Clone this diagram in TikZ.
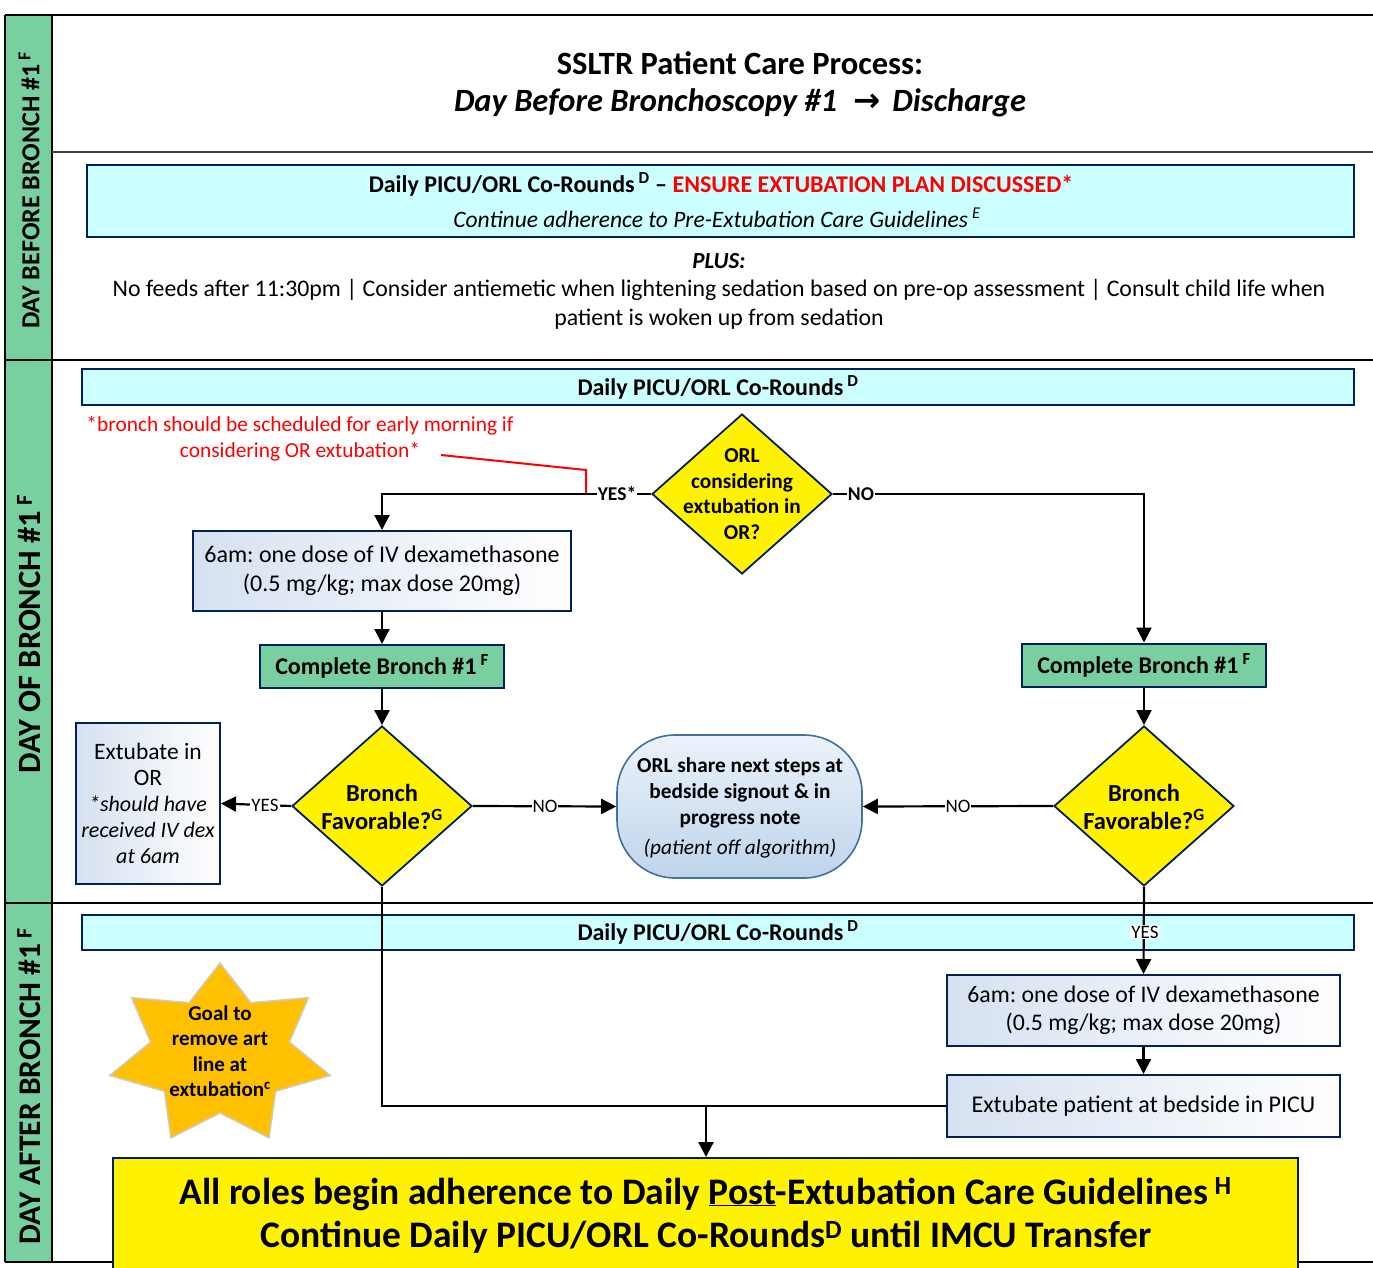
\documentclass[tikz,border=0pt]{standalone}
\usepackage{fontspec}
\setmainfont{Carlito}
\newfontfamily\dejavu{DejaVu Sans}
\usetikzlibrary{arrows.meta,shapes.geometric,calc}
\definecolor{navy}{RGB}{0,32,96}
\definecolor{cyanbox}{RGB}{204,255,255}
\definecolor{greenbox}{RGB}{120,208,160}
\definecolor{starorange}{RGB}{255,192,0}
\definecolor{stadborder}{RGB}{65,113,156}
\definecolor{paleblue}{RGB}{214,225,240}
\definecolor{stadtop}{RGB}{236,242,250}
\definecolor{stadbot}{RGB}{190,212,236}
\newcommand{\fs}[2]{\fontsize{#1}{#2}\selectfont}
\begin{document}
\frenchspacing
\begin{tikzpicture}[x=1pt,y=-1pt,
  frame/.style={line width=2.4pt, black},
  conn/.style={line width=2.2pt, black},
  arr/.style={conn, -{Triangle[length=15pt,width=15pt]}},
  cyanbar/.style={draw=navy, line width=2pt, fill=cyanbox, inner sep=0pt},
  palebox/.style={draw=navy, line width=2pt, left color=paleblue, right color=white, inner sep=0pt, align=center},
  greenstep/.style={draw=navy, line width=2pt, fill=greenbox, inner sep=0pt, minimum width=244pt, minimum height=43pt, font=\fs{24}{28}\bfseries},
  dia/.style={diamond, draw=navy, line width=1.8pt, fill=yellow, minimum width=180pt, minimum height=160pt, inner sep=0pt},
  lbl/.style={fill=white, inner sep=1pt, font=\fs{19}{22}},
  sidelab/.style={rotate=90, font=\bfseries, inner sep=0pt}
]
\useasboundingbox (0,0) rectangle (1373,1268);
\fill[white] (0,0) rectangle (1373,1268);

% ---- frame and swimlane strip
\fill[greenbox] (5,15) rectangle (52,1262);
\draw[frame] (5,15) -- (1373,15);
\draw[frame] (5,360) -- (1373,360);
\draw[frame] (5,903) -- (1373,903);
\draw[frame] (5,1262) -- (1373,1262);
\draw[frame] (5,15) -- (5,1262);
\draw[frame] (52,15) -- (52,1262);
\draw[line width=2.4pt, black!75] (52,152) -- (1373,152);

\node[sidelab, font=\fs{26}{30}\bfseries] (lab1) at (29,190) {DAY BEFORE BRONCH \#1\,\textsuperscript{F}};
\node[sidelab, font=\fs{32.5}{34}\bfseries] (lab2) at (29,634) {DAY OF BRONCH \#1\,\textsuperscript{F}};
\node[sidelab, font=\fs{31.5}{34}\bfseries] (lab3) at (29,1086) {DAY AFTER BRONCH \#1\,\textsuperscript{F}};

% ---- title
\node[font=\fs{32.5}{36}\bfseries] (title1) at (740,63) {SSLTR Patient Care Process:};
\node[font=\fs{32.5}{36}\bfseries\itshape] (title2) at (740,103) {Day Before Bronchoscopy \#1\hspace{16pt}{\dejavu\bfseries\upshape →}\hspace{12pt}Discharge};

% ---- day before
\node[cyanbar, minimum width=1267pt, minimum height=72pt] (bar1) at (720.5,201) {};
\node[font=\fs{24}{28}\bfseries] (bar1a) at (721,184) {Daily PICU/ORL Co-Rounds\,\textsuperscript{D} -- \textcolor{red}{ENSURE EXTUBATION PLAN DISCUSSED*}};
\node[font=\fs{23.5}{26}\itshape] (bar1b) at (717,218) {Continue adherence to Pre-Extubation Care Guidelines\,\textsuperscript{E}};
\node[font=\fs{23}{26}\bfseries\itshape] (plus) at (719,261) {PLUS:};
\node[font=\fs{23.8}{29}, align=center] (plustext) at (719,304) {No feeds after 11:30pm | Consider antiemetic when lightening sedation based on pre-op assessment | Consult child life when\\patient is woken up from sedation};

% ---- day of
\node[cyanbar, minimum width=1272pt, minimum height=36pt, font=\fs{24}{26}\bfseries] (bar2) at (718,387) {Daily PICU/ORL Co-Rounds\,\textsuperscript{D}};
\node[font=\fs{21.4}{26}, text=red, align=center] (note) at (300,439) {*bronch should be scheduled for early morning if\\considering OR extubation*};
\coordinate (rnA) at (441,455);
\coordinate (rnB) at (586,493);

\node[dia] (d1) at (742,494) {};
\node[font=\fs{21.3}{25.5}\bfseries, align=center] (d1t) at (742,494) {ORL\\considering\\extubation in\\OR?};

\node[palebox, minimum width=378pt, minimum height=80pt, font=\fs{24}{29}] (dex1) at (382,571) {6am: one dose of IV dexamethasone\\(0.5 mg/kg; max dose 20mg)};
\node[greenstep] (cbL) at (382,666.5) {Complete Bronch \#1\,\textsuperscript{F}};
\node[greenstep] (cbR) at (1144,665) {Complete Bronch \#1\,\textsuperscript{F}};

\node[dia] (dL) at (382,806) {};
\node[font=\fs{24.5}{28}\bfseries, align=center] (dLt) at (382,807) {Bronch\\Favorable?\textsuperscript{G}};
\node[dia] (dR) at (1144,806) {};
\node[font=\fs{24.5}{28}\bfseries, align=center] (dRt) at (1144,807) {Bronch\\Favorable?\textsuperscript{G}};

\node[palebox, minimum width=144pt, minimum height=161pt, font=\fs{22}{26}] (exOR) at (148,803.5) {\fs{23.5}{29}Extubate in\\\fs{23.5}{26}OR\\\fs{22}{26}\itshape *should have\\\itshape received IV dex\\\itshape at 6am};

\node[draw=stadborder, line width=1.6pt, rounded corners=58pt, top color=stadtop, bottom color=stadbot, minimum width=245pt, minimum height=143pt, inner sep=0pt] (stad) at (739.5,806.5) {};
\node[font=\fs{21.3}{26}\bfseries, align=center] (stadt) at (740,808) {ORL share next steps at\\bedside signout \& in\\progress note\\[4pt]\mdseries\itshape (patient off algorithm)};

% ---- day after
\node[cyanbar, minimum width=1272pt, minimum height=35pt, font=\fs{24}{26}\bfseries] (bar3) at (718,932.5) {Daily PICU/ORL Co-Rounds\,\textsuperscript{D}};

\fill[starorange, draw=black!20, line width=1.5pt]
  (220,963) -- (250.9,1002.7) -- (308.5,997.6) -- (289.5,1042.1) -- (330.4,1075.5)
  -- (275.7,1091.2) -- (269.1,1137.9) -- (220,1113) -- (170.9,1137.9) -- (164.3,1091.2)
  -- (109.6,1075.5) -- (150.5,1042.1) -- (131.5,997.6) -- (189.1,1002.7) -- cycle;
\node[font=\fs{21}{25.5}\bfseries, align=center] (startext) at (220,1051) {Goal to\\remove art\\line at\\extubation\textsuperscript{c}};

\node[palebox, minimum width=393pt, minimum height=71pt, font=\fs{23.8}{28}] (dex2) at (1143.5,1010.5) {6am: one dose of IV dexamethasone\\(0.5 mg/kg; max dose 20mg)};
\node[palebox, minimum width=393pt, minimum height=62pt, font=\fs{24}{28}] (exP) at (1143.5,1106) {Extubate patient at bedside in PICU};

\node[draw=navy, line width=1.5pt, fill=yellow, minimum width=1185pt, minimum height=130pt, inner sep=0pt, anchor=north] (final) at (705.5,1157) {};
\node[font=\fs{37.5}{40}\bfseries] (fin1) at (705.5,1194) {All roles begin adherence to Daily \underline{Post}-Extubation Care Guidelines\,\textsuperscript{H}};
\node[font=\fs{37.5}{40}\bfseries] (fin2) at (706,1237) {Continue Daily PICU/ORL Co-Rounds\textsuperscript{D} until IMCU Transfer};

% ---- connectors
\draw[arr] (d1.west) -| (dex1.north);
\draw[arr] (d1.east) -| (cbR.north);
\draw[arr] (dex1.south) -- (cbL.north);
\draw[arr] (cbL.south) -- (dL.north);
\draw[arr] (cbR.south) -- (dR.north);
\draw[arr] (dL.west) -- (exOR.east);
\draw[arr] (dL.east) -- (stad.west);
\draw[arr] (dR.west) -- (stad.east);
\draw[arr] (dR.south) -- (dex2.north);
\draw[arr] (dex2.south) -- (exP.north);
\draw[conn] (dL.south) |- (exP.west);
\coordinate (j) at (706,1106);
\draw[arr] (j) -- (final.north -| j);
\draw[red, line width=2pt] (rnA) -- (586,470) -- (rnB);

% ---- connector labels
\node[lbl, font=\fs{19.5}{22}\bfseries] (yes1) at (617,494) {YES*};
\node[lbl, font=\fs{19.5}{22}\bfseries] (no1) at (861,494) {NO};
\node[lbl] (yes2) at (265,805) {YES};
\node[lbl] (no2) at (545,806) {NO};
\node[lbl] (no3) at (958,806) {NO};
\node[lbl] (yes3) at (1145,932) {YES};
\end{tikzpicture}
\end{document}
